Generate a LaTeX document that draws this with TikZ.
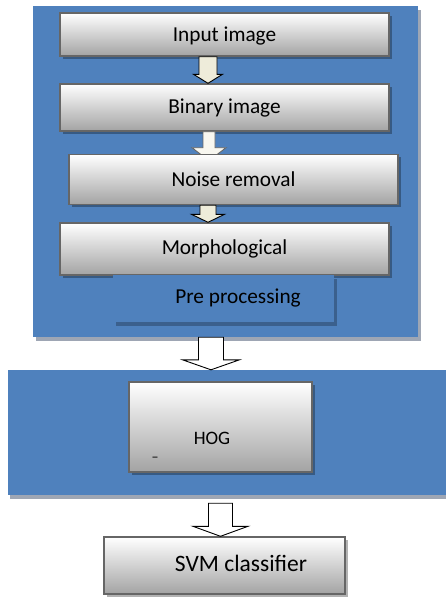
\documentclass[tikz,border=0pt]{standalone}
\usepackage{fontspec}
\setmainfont{Carlito}
\usepackage{xcolor}
\usepackage{tikz}
\usetikzlibrary{calc, shadows}
\definecolor{panelblue}{RGB}{79,129,189}
\definecolor{panelshade}{RGB}{158,166,180}
\definecolor{boxline}{RGB}{102,102,102}
\definecolor{cream}{RGB}{238,236,218}
\tikzset{
	panel/.style={fill=panelblue, inner sep=0pt},
	stage/.style={draw=boxline, line width=1.4pt, top color=white, bottom color=black!36, inner sep=0pt, font=\fontsize{21.3}{25}\selectfont, drop shadow={fill=black, opacity=0.3, shadow xshift=2.5pt, shadow yshift=-2.5pt}},
	txt/.style={font=\fontsize{21.3}{25}\selectfont, inner sep=0pt},
	blockarr/.style={draw=black, line width=0.9pt, fill=white, line join=miter},
}
\newcommand{\blockarrow}[6]{%
	\draw[#6] let \p1=(#1), \p2=(#2) in
		(\x1-#3,\y1) -- (\x1-#3,\y2+#5) -- (\x1-#4,\y2+#5) -- (\x1,\y2) -- (\x1+#4,\y2+#5) -- (\x1+#3,\y2+#5) -- (\x1+#3,\y1) -- cycle;}

\begin{document}
\begin{tikzpicture}[x=1pt, y=-1pt]
		\useasboundingbox (0,0) rectangle (446,598);
		\node[panel, minimum width=385pt, minimum height=331pt, drop shadow={fill=panelshade, opacity=1, shadow xshift=3pt, shadow yshift=-4pt}] (prep) at (225.5,171.5) {};
		\node[stage, minimum width=329pt, minimum height=43pt, text depth=1pt] (inp) at (224.5,34.5) {Input image};
		\node[stage, minimum width=329pt, minimum height=47pt] (bin) at (224.5,107.5) {Binary image};
		\blockarrow{[xshift=-16.5pt]inp.south}{bin.north}{9pt}{14.5pt}{9pt}{blockarr, fill=cream}
		\blockarrow{[xshift=-15.5pt]bin.south}{[xshift=-15.5pt, yshift=-29pt]bin.south}{6pt}{17pt}{13pt}{blockarr, draw=boxline, fill=cream!40}
		\node[stage, minimum width=329pt, minimum height=50pt] (noise) at (233.5,179.5) {Noise removal};
		\node[stage, minimum width=329pt, minimum height=52pt] (morph) at (224.5,249) {Morphological};
		\blockarrow{[xshift=-25.5pt]noise.south}{morph.north}{8pt}{16.5pt}{8pt}{blockarr, fill=cream}
		\node[panel, minimum width=221pt, minimum height=47pt, drop shadow={fill=black, opacity=0.25, shadow xshift=3pt, shadow yshift=-4pt}] (pre) at (223.5,298.5) {};
		\node[txt] (prelbl) at (238,298) {Pre processing};
		\node[panel, minimum width=438pt, minimum height=125pt, drop shadow={fill=panelshade, opacity=1, shadow xshift=2pt, shadow yshift=-4pt}] (feat) at (227,432.5) {};
		\blockarrow{[xshift=-14.5pt]prep.south}{feat.north}{12.5pt}{28.5pt}{10pt}{blockarr}
		\node[stage, minimum width=183pt, minimum height=90pt] (hog) at (220.5,427) {};
		\node[txt, font=\fontsize{19}{23}\selectfont] (hoglbl) at (212,438) {HOG};
		\node[txt, font=\fontsize{14}{16}\selectfont] (hogmark) at (155,459) {–};
		\node[stage, minimum width=241pt, minimum height=57pt] (svm) at (224.5,565.5) {};
		\node[txt, font=\fontsize{23.5}{27}\selectfont] (svmlbl) at (241,563) {SVM classifier};
		\blockarrow{[xshift=-6.5pt, yshift=-8pt]feat.south}{svm.north}{12pt}{27.5pt}{10pt}{blockarr}
	\end{tikzpicture}
\end{document}
